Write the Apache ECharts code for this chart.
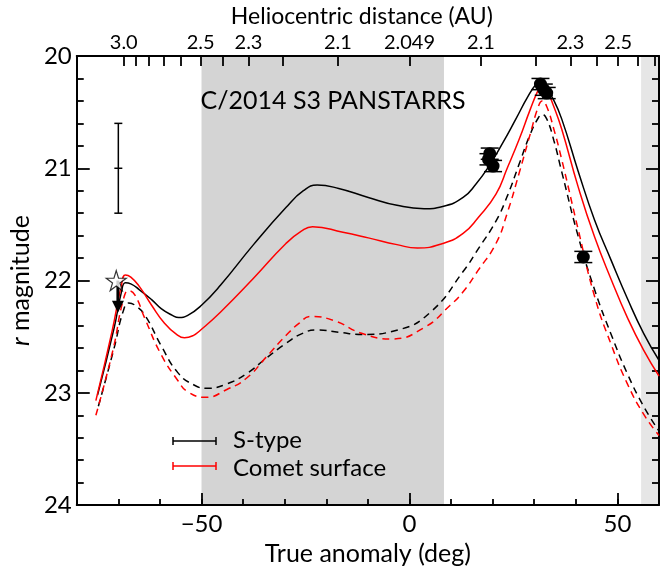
<!DOCTYPE html>
<html><head><meta charset="utf-8">
<script src="https://cdn.jsdelivr.net/npm/echarts@6/dist/echarts.min.js"></script>
<style>html,body{margin:0;padding:0;background:#fff}#c{width:660px;height:571px}</style>
</head><body><div id="c"></div>
<script>
// ---- data ----
const sTypeSolid = [[-75.0,23.02],[-71.0,22.42],[-69.3,22.11],[-68.3,22.02],[-67.0,22.03],[-65.0,22.08],[-62.0,22.17],[-59.7,22.25],[-57.0,22.31],[-55.5,22.33],[-53.3,22.31],[-50.0,22.22],[-45.4,22.04],[-37.5,21.68],[-29.7,21.35],[-25.5,21.20],[-22.2,21.15],[-17.0,21.18],[-9.9,21.26],[-3.0,21.33],[3.5,21.36],[8.0,21.34],[12.9,21.26],[16.0,21.14],[19.3,20.97],[22.5,20.77],[25.6,20.56],[28.5,20.36],[30.5,20.25],[31.5,20.23],[32.5,20.26],[34.5,20.38],[36.6,20.56],[40.6,21.03],[44.5,21.46],[48.5,21.82],[52.4,22.16],[56.3,22.47],[60.0,22.71]];
const cometSolid = [[-75.4,23.07],[-71.5,22.45],[-69.3,22.05],[-68.3,21.95],[-67.0,21.97],[-65.0,22.05],[-62.0,22.22],[-58.9,22.38],[-56.0,22.48],[-54.1,22.51],[-52.0,22.49],[-50.2,22.44],[-45.4,22.28],[-37.5,21.98],[-29.7,21.67],[-26.0,21.56],[-23.3,21.52],[-16.0,21.57],[-9.9,21.62],[-3.0,21.68],[1.9,21.71],[8.0,21.67],[12.9,21.58],[16.5,21.44],[20.8,21.23],[23.5,21.00],[26.4,20.74],[29.0,20.48],[31.0,20.30],[31.9,20.25],[33.0,20.30],[34.7,20.45],[36.6,20.65],[40.6,21.17],[44.5,21.61],[48.5,21.99],[52.4,22.33],[56.3,22.62],[60.0,22.85]];
const sTypeDashed = [[-74.8,23.12],[-71.0,22.60],[-68.8,22.27],[-67.5,22.20],[-66.0,22.22],[-63.6,22.31],[-59.7,22.58],[-55.7,22.82],[-51.8,22.93],[-48.6,22.96],[-43.9,22.92],[-39.2,22.83],[-34.4,22.69],[-29.7,22.56],[-25.7,22.47],[-22.2,22.44],[-17.0,22.46],[-11.5,22.48],[-2.8,22.44],[5.1,22.28],[12.9,21.92],[16.5,21.72],[20.8,21.47],[23.5,21.25],[26.4,20.96],[29.0,20.70],[31.0,20.55],[31.9,20.52],[33.0,20.56],[34.7,20.75],[36.6,21.03],[40.6,21.61],[44.5,22.08],[48.5,22.48],[52.4,22.83],[56.3,23.12],[60.0,23.34]];
const cometDashed = [[-75.4,23.20],[-71.3,22.62],[-68.8,22.17],[-67.5,22.09],[-66.0,22.13],[-63.6,22.34],[-59.7,22.66],[-55.7,22.89],[-53.3,22.99],[-49.0,23.04],[-43.9,22.97],[-39.2,22.87],[-34.4,22.68],[-29.7,22.49],[-26.5,22.38],[-23.8,22.32],[-17.9,22.36],[-11.5,22.47],[-4.4,22.52],[3.5,22.42],[9.8,22.22],[12.9,22.10],[16.5,21.91],[20.8,21.67],[23.5,21.40],[26.4,21.04],[29.0,20.70],[31.0,20.45],[31.9,20.40],[33.0,20.45],[34.7,20.65],[36.6,20.92],[40.6,21.55],[44.5,22.14],[48.5,22.57],[52.4,22.92],[56.3,23.19],[60.0,23.38]];
const obsPoints = [[19.0,20.92,0.05],[19.3,20.87,0.05],[20.1,20.98,0.05],[31.5,20.25,0.05],[32.3,20.30,0.05],[33.0,20.33,0.05],[41.8,21.79,0.05]];
const starPoint = [[-70.5,22.0]];
const upperLimit = [[-70.1,22.0,22.27]];
const typicalError = [[-70.0,21.0,0.4]];
const shadedRanges = [[-50,8.3],[55.7,60]];
const bottomMajorTicks = [-50,0,50];
const topTickPos = [-68.7,-65.8,-62.7,-59.0,-55.1,-50.2,-44.8,-38.7,-30.4,-17.2,0,17.2,30.4,38.7,45.0,50.2,55.0,59.0];
const topTickLabels = ['3.0','','','','','2.5','','2.3','','2.1','2.049','2.1','','2.3','','2.5','',''];
const legendNames = ['S-type','Comet surface'];

const FONT = 'Lato, "Open Sans", sans-serif';
const chart = echarts.init(document.getElementById('c'));
const axisLine = {show:true, onZero:false, lineStyle:{color:'#000', width:2}};
const tickStyle = {color:'#000', width:1.8};
const SM = 0.5;

const opt = {
  animation:false,
  backgroundColor:'#fff',
  grid:{left:67, right:1, top:52, bottom:60},
  xAxis:[
    {type:'value', position:'bottom', min:-80, max:60, z:5,
     axisLine, splitLine:{show:false},
     axisTick:{show:true, inside:true, length:12, lineStyle:tickStyle, customValues:bottomMajorTicks},
     axisLabel:{show:true, customValues:bottomMajorTicks, margin:7, color:'#000', fontSize:24, fontFamily:FONT,
       formatter:v => v < 0 ? '\u2212' + Math.abs(v) : String(v)},
     name:'True anomaly (deg)', nameLocation:'middle', nameGap:34,
     nameTextStyle:{color:'#000', fontSize:25, fontFamily:FONT}},
    {type:'value', position:'top', min:-80, max:60, z:5,
     axisLine, splitLine:{show:false},
     axisTick:{show:true, inside:true, length:10, lineStyle:tickStyle, customValues:topTickPos},
     axisLabel:{show:true, customValues:topTickPos.filter((p,i)=>topTickLabels[i]!==''), margin:3, color:'#000', fontSize:20, fontFamily:FONT,
       formatter:v => { const i = topTickPos.findIndex(p => Math.abs(p - v) < 1e-6); return i >= 0 ? topTickLabels[i] : ''; }},
     name:'Heliocentric distance (AU)', nameLocation:'middle', nameGap:28,
     nameTextStyle:{color:'#000', fontSize:23, fontFamily:FONT, padding:[0,12,0,0]}},
    {type:'value', position:'bottom', min:-80, max:60, interval:10, z:5,
     axisLine:{show:false}, splitLine:{show:false}, axisLabel:{show:false},
     axisTick:{show:true, inside:true, length:6, lineStyle:tickStyle}}
  ],
  yAxis:[
    {type:'value', position:'left', inverse:true, min:20, max:24, interval:1, z:5,
     axisLine, splitLine:{show:false},
     axisTick:{show:true, inside:true, length:13, lineStyle:tickStyle},
     minorTick:{show:true, splitNumber:5, length:7, lineStyle:tickStyle},
     axisLabel:{show:true, margin:5, color:'#000', fontSize:24, fontFamily:FONT},
     name:'{i|r} magnitude', nameLocation:'middle', nameGap:41,
     nameTextStyle:{color:'#000', fontSize:25, fontFamily:FONT, rich:{i:{fontStyle:'italic', fontSize:25, fontFamily:FONT, color:'#000'}}}},
    {type:'value', position:'right', inverse:true, min:20, max:24, interval:1, z:5,
     axisLine, splitLine:{show:false}, axisLabel:{show:false},
     axisTick:{show:true, inside:true, length:13, lineStyle:tickStyle},
     minorTick:{show:true, splitNumber:5, length:7, lineStyle:tickStyle}}
  ],
  series:[
    {type:'line', data:[], z:1, silent:true,
     markArea:{silent:true, data: shadedRanges.map((r,i)=>[{xAxis:r[0], itemStyle:{color: i===0 ? '#d4d4d4' : '#e6e6e6'}},{xAxis:r[1]}])}},
    {name:legendNames[0], type:'line', data:sTypeSolid, symbol:'none', smooth:SM, z:6,
     lineStyle:{color:'#000', width:1.5}},
    {name:legendNames[1], type:'line', data:cometSolid, symbol:'none', smooth:SM, z:6,
     lineStyle:{color:'#ff0000', width:1.5}},
    {type:'line', data:sTypeDashed, symbol:'none', smooth:SM, z:6,
     lineStyle:{color:'#000', width:1.5, type:[7,5]}},
    {type:'line', data:cometDashed, symbol:'none', smooth:SM, z:6,
     lineStyle:{color:'#ff0000', width:1.5, type:[7,5]}},
    {type:'custom', data:typicalError, z:7, renderItem:(params, api)=>{
      const x=api.value(0), y=api.value(1), e=api.value(2);
      const t=api.coord([x,y-e]), b=api.coord([x,y+e]), m=api.coord([x,y]);
      const st={stroke:'#000', lineWidth:1.5}; const c=4;
      return {type:'group', children:[
        {type:'line', shape:{x1:t[0],y1:t[1],x2:b[0],y2:b[1]}, style:st},
        {type:'line', shape:{x1:t[0]-c,y1:t[1],x2:t[0]+c,y2:t[1]}, style:st},
        {type:'line', shape:{x1:b[0]-c,y1:b[1],x2:b[0]+c,y2:b[1]}, style:st},
        {type:'line', shape:{x1:m[0]-c,y1:m[1],x2:m[0]+c,y2:m[1]}, style:st}
      ]};
    }},
    {type:'custom', data:obsPoints, z:8, renderItem:(params, api)=>{
      const x=api.value(0), y=api.value(1), e=api.value(2);
      const t=api.coord([x,y-e]), b=api.coord([x,y+e]), m=api.coord([x,y]);
      const st={stroke:'#000', lineWidth:1.5}; const c=9;
      return {type:'group', children:[
        {type:'line', shape:{x1:t[0],y1:t[1],x2:b[0],y2:b[1]}, style:st},
        {type:'line', shape:{x1:t[0]-c,y1:t[1],x2:t[0]+c,y2:t[1]}, style:st},
        {type:'line', shape:{x1:b[0]-c,y1:b[1],x2:b[0]+c,y2:b[1]}, style:st},
        {type:'circle', shape:{cx:m[0], cy:m[1], r:6.5}, style:{fill:'#000'}}
      ]};
    }},
    {type:'custom', data:upperLimit, z:8, renderItem:(params, api)=>{
      const x=api.value(0);
      const a=api.coord([x,api.value(1)]), b=api.coord([x,api.value(2)]);
      return {type:'group', children:[
        {type:'line', shape:{x1:a[0],y1:a[1],x2:b[0],y2:b[1]-6}, style:{stroke:'#000', lineWidth:3}},
        {type:'polygon', shape:{points:[[b[0]-6,b[1]-10],[b[0]+6,b[1]-10],[b[0],b[1]+2]]}, style:{fill:'#000'}}
      ]};
    }},
    {type:'scatter', data:starPoint, z:9,
     symbol:'path://M50,0 L61,35 L98,35 L68,57 L79,91 L50,70 L21,91 L32,57 L2,35 L39,35 Z',
     symbolSize:20, itemStyle:{color:'#fff', borderColor:'#000', borderWidth:1.2}}
  ],
  graphic:[
    {type:'text', x:333, y:101, z:20, style:{text:'C/2014 S3 PANSTARRS', fill:'#000', font:'25px '+FONT, textAlign:'center', textVerticalAlign:'middle'}},
    {type:'line', z:20, shape:{x1:173,y1:437,x2:173,y2:445}, style:{stroke:'#000', lineWidth:1.5}},
    {type:'line', z:20, shape:{x1:173,y1:441,x2:216,y2:441}, style:{stroke:'#000', lineWidth:1.5}},
    {type:'line', z:20, shape:{x1:216,y1:437,x2:216,y2:445}, style:{stroke:'#000', lineWidth:1.5}},
    {type:'text', x:233, y:440, z:20, style:{text:legendNames[0], fill:'#000', font:'24px '+FONT, textVerticalAlign:'middle'}},
    {type:'line', z:20, shape:{x1:173,y1:462,x2:173,y2:470}, style:{stroke:'#ff0000', lineWidth:1.5}},
    {type:'line', z:20, shape:{x1:173,y1:466,x2:216,y2:466}, style:{stroke:'#ff0000', lineWidth:1.5}},
    {type:'line', z:20, shape:{x1:216,y1:462,x2:216,y2:470}, style:{stroke:'#ff0000', lineWidth:1.5}},
    {type:'text', x:233, y:468, z:20, style:{text:legendNames[1], fill:'#000', font:'24px '+FONT, textVerticalAlign:'middle'}}
  ]
};
chart.setOption(opt);
</script></body></html>
